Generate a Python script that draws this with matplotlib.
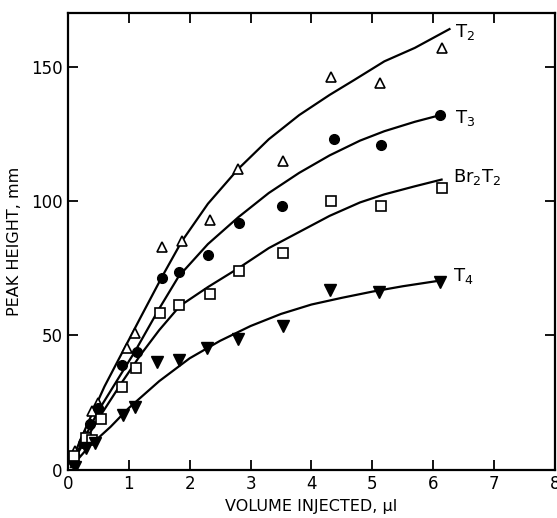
import matplotlib

matplotlib.use("Agg")
import matplotlib.pyplot as plt

plt.rcParams.update({"font.family": "DejaVu Sans", "font.size": 11.5})

# ── measured points (volume injected, µl  vs  peak height, mm) ──
t2_x = [0.12, 0.28, 0.39, 0.49, 0.97, 1.1, 1.55, 1.87, 2.33, 2.8, 3.53, 4.33, 5.12, 6.14]
t2_y = [7, 13, 22, 25, 45.5, 51, 83, 85, 93, 112, 115, 146, 144, 157]

t3_x = [0.1, 0.25, 0.36, 0.5, 0.89, 1.13, 1.54, 1.82, 2.3, 2.81, 3.51, 4.37, 5.14, 6.12]
t3_y = [3, 10, 17, 23, 39, 44, 71.5, 73.5, 80, 92, 98, 123, 121, 132]

br_x = [0.1, 0.3, 0.39, 0.55, 0.89, 1.12, 1.52, 1.82, 2.33, 2.81, 3.53, 4.32, 5.14, 6.14]
br_y = [5, 12, 11, 19, 31, 38, 58.5, 61.5, 65.5, 74, 80.5, 100, 98, 105]

t4_x = [0.11, 0.3, 0.44, 0.9, 1.1, 1.47, 1.82, 2.28, 2.8, 3.53, 4.3, 5.11, 6.11]
t4_y = [1, 8, 10, 20.5, 23.5, 40, 41, 45.5, 48.5, 53.5, 67, 66, 70]

# ── hand-drawn fit curves ──
t2_cx = [0.05, 0.3, 0.6, 0.9, 1.2, 1.55, 1.87, 2.3, 2.8, 3.3, 3.8, 4.3, 4.7, 5.2, 5.7, 6.27]
t2_cy = [3, 16, 31, 44, 57, 72, 85, 99, 112, 123, 132, 139.5, 145, 152, 157, 164]

t3_cx = [0.05, 0.5, 1.1, 1.5, 1.82, 2.3, 2.8, 3.3, 3.8, 4.3, 4.8, 5.2, 5.7, 6.12]
t3_cy = [2, 22, 44, 60, 72, 84, 94, 103, 110.5, 117, 122.5, 126, 129.5, 132]

br_cx = [0.05, 0.5, 0.9, 1.2, 1.5, 1.84, 2.3, 2.8, 3.3, 3.8, 4.3, 4.8, 5.2, 5.7, 6.14]
br_cy = [2, 19, 33, 43, 52, 61, 68, 75, 82.5, 88.5, 94.5, 99.5, 102.5, 105.5, 108]

t4_cx = [0.05, 0.36, 0.7, 1.0, 1.5, 2.0, 2.5, 3.0, 3.5, 4.0, 4.5, 5.0, 5.5, 6.11]
t4_cy = [1, 9, 16, 23, 33, 41.5, 48, 53.5, 58, 61.5, 64, 66.3, 68.3, 70.4]

fig = plt.figure(figsize=(5.57, 5.18), dpi=100)
ax = fig.add_axes([0.122, 0.093, 0.874, 0.882])

for cx, cy in [(t2_cx, t2_cy), (t3_cx, t3_cy), (br_cx, br_cy), (t4_cx, t4_cy)]:
    ax.plot(cx, cy, color="black", lw=1.6)

ax.plot(t2_x, t2_y, ls="none", marker="^", ms=7, mfc="white", mec="black", mew=1.2)
ax.plot(t3_x, t3_y, ls="none", marker="o", ms=7, mfc="black", mec="black")
ax.plot(br_x, br_y, ls="none", marker="s", ms=6.5, mfc="white", mec="black", mew=1.2)
ax.plot(t4_x, t4_y, ls="none", marker="v", ms=8, mfc="black", mec="black")

ax.text(6.36, 163, r"$\mathregular{T_2}$", fontsize=13, va="center")
ax.text(6.36, 131, r"$\mathregular{T_3}$", fontsize=13, va="center")
ax.text(6.33, 109, r"$\mathregular{Br_2T_2}$", fontsize=13, va="center")
ax.text(6.33, 72, r"$\mathregular{T_4}$", fontsize=13, va="center")

ax.set_xlim(0, 8)
ax.set_ylim(0, 170)
ax.set_xticks(range(0, 9))
ax.set_yticks([0, 50, 100, 150])
ax.tick_params(direction="in", length=7, width=1.3, top=True, right=True, labelsize=12, pad=4)
for spine in ax.spines.values():
    spine.set_linewidth(1.6)

ax.set_xlabel("VOLUME INJECTED, µl", fontsize=11.5, labelpad=4)
ax.set_ylabel("PEAK HEIGHT, mm", fontsize=11.5, labelpad=6)

fig.savefig("out.png", dpi=100, facecolor="white")
